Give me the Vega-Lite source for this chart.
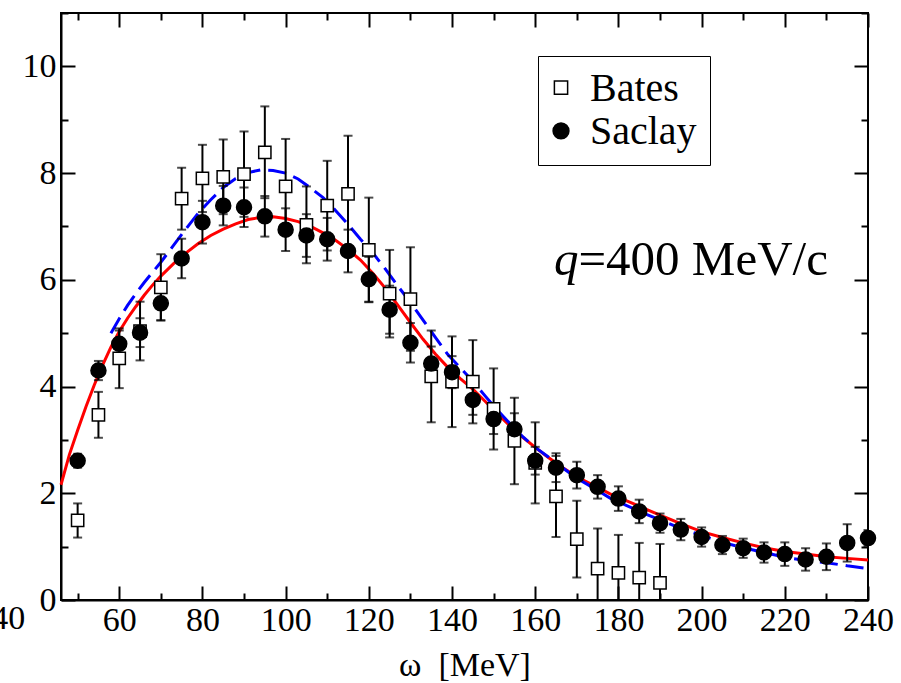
{
  "$schema": "https://vega.github.io/schema/vega-lite/v6.json",
  "width": 807,
  "height": 587,
  "autosize": {"type": "none"},
  "padding": {"left": 61, "top": 13, "right": 33, "bottom": 83},
  "background": "white",
  "config": {
    "font": "Liberation Serif",
    "view": {"stroke": "black", "strokeWidth": 2},
    "axis": {
      "grid": false,
      "domainColor": "black",
      "domainWidth": 2,
      "tickColor": "black",
      "tickWidth": 2,
      "labelColor": "black",
      "labelFont": "Liberation Serif",
      "labelFontSize": 34,
      "labelOverlap": false,
      "labelFlush": false,
      "titleFont": "Liberation Serif",
      "titleFontSize": 34,
      "titleFontWeight": "normal",
      "titleColor": "black"
    },
    "legend": {
      "orient": "none",
      "legendX": 477,
      "legendY": 43,
      "strokeColor": "black",
      "padding": 13,
      "labelFont": "Liberation Serif",
      "labelFontSize": 40,
      "labelColor": "black",
      "labelOffset": 9,
      "symbolOffset": -10,
      "symbolSize": 210,
      "symbolOpacity": 0,
      "rowPadding": 3
    }
  },
  "datasets": {
    "obs": [
      {"exp": "Bates", "w": 50, "v": 1.49, "err": 0.32},
      {"exp": "Bates", "w": 55, "v": 3.47, "err": 0.43},
      {"exp": "Bates", "w": 60, "v": 4.53, "err": 0.56},
      {"exp": "Bates", "w": 65, "v": 5.04, "err": 0.55},
      {"exp": "Bates", "w": 70, "v": 5.86, "err": 0.62},
      {"exp": "Bates", "w": 75, "v": 7.52, "err": 0.58},
      {"exp": "Bates", "w": 80, "v": 7.90, "err": 0.63},
      {"exp": "Bates", "w": 85, "v": 7.93, "err": 0.70},
      {"exp": "Bates", "w": 90, "v": 7.98, "err": 0.80},
      {"exp": "Bates", "w": 95, "v": 8.39, "err": 0.86},
      {"exp": "Bates", "w": 100, "v": 7.75, "err": 0.89},
      {"exp": "Bates", "w": 105, "v": 7.03, "err": 0.72},
      {"exp": "Bates", "w": 110, "v": 7.39, "err": 0.84},
      {"exp": "Bates", "w": 115, "v": 7.61, "err": 1.09},
      {"exp": "Bates", "w": 120, "v": 6.56, "err": 0.98},
      {"exp": "Bates", "w": 125, "v": 5.74, "err": 0.82},
      {"exp": "Bates", "w": 130, "v": 5.64, "err": 0.97},
      {"exp": "Bates", "w": 135, "v": 4.19, "err": 0.86},
      {"exp": "Bates", "w": 140, "v": 4.09, "err": 0.85},
      {"exp": "Bates", "w": 145, "v": 4.09, "err": 0.78},
      {"exp": "Bates", "w": 150, "v": 3.58, "err": 0.76},
      {"exp": "Bates", "w": 155, "v": 2.98, "err": 0.81},
      {"exp": "Bates", "w": 160, "v": 2.57, "err": 0.76},
      {"exp": "Bates", "w": 165, "v": 1.94, "err": 0.76},
      {"exp": "Bates", "w": 170, "v": 1.14, "err": 0.72},
      {"exp": "Bates", "w": 175, "v": 0.59, "err": 0.75},
      {"exp": "Bates", "w": 180, "v": 0.51, "err": 0.71},
      {"exp": "Bates", "w": 185, "v": 0.42, "err": 0.65},
      {"exp": "Bates", "w": 190, "v": 0.32, "err": 0.73},
      {"exp": "Saclay", "w": 50, "v": 2.61, "err": 0.13},
      {"exp": "Saclay", "w": 55, "v": 4.30, "err": 0.18},
      {"exp": "Saclay", "w": 60, "v": 4.80, "err": 0.25},
      {"exp": "Saclay", "w": 65, "v": 5.01, "err": 0.27},
      {"exp": "Saclay", "w": 70, "v": 5.56, "err": 0.32},
      {"exp": "Saclay", "w": 75, "v": 6.40, "err": 0.37},
      {"exp": "Saclay", "w": 80, "v": 7.08, "err": 0.40},
      {"exp": "Saclay", "w": 85, "v": 7.39, "err": 0.37},
      {"exp": "Saclay", "w": 90, "v": 7.36, "err": 0.37},
      {"exp": "Saclay", "w": 95, "v": 7.19, "err": 0.38},
      {"exp": "Saclay", "w": 100, "v": 6.94, "err": 0.40},
      {"exp": "Saclay", "w": 105, "v": 6.83, "err": 0.40},
      {"exp": "Saclay", "w": 110, "v": 6.76, "err": 0.40},
      {"exp": "Saclay", "w": 115, "v": 6.54, "err": 0.40},
      {"exp": "Saclay", "w": 120, "v": 6.01, "err": 0.42},
      {"exp": "Saclay", "w": 125, "v": 5.44, "err": 0.45},
      {"exp": "Saclay", "w": 130, "v": 4.82, "err": 0.37},
      {"exp": "Saclay", "w": 135, "v": 4.43, "err": 0.32},
      {"exp": "Saclay", "w": 140, "v": 4.27, "err": 0.30},
      {"exp": "Saclay", "w": 145, "v": 3.75, "err": 0.28},
      {"exp": "Saclay", "w": 150, "v": 3.39, "err": 0.28},
      {"exp": "Saclay", "w": 155, "v": 3.20, "err": 0.30},
      {"exp": "Saclay", "w": 160, "v": 2.61, "err": 0.26},
      {"exp": "Saclay", "w": 165, "v": 2.48, "err": 0.27},
      {"exp": "Saclay", "w": 170, "v": 2.34, "err": 0.25},
      {"exp": "Saclay", "w": 175, "v": 2.12, "err": 0.22},
      {"exp": "Saclay", "w": 180, "v": 1.90, "err": 0.23},
      {"exp": "Saclay", "w": 185, "v": 1.66, "err": 0.22},
      {"exp": "Saclay", "w": 190, "v": 1.44, "err": 0.18},
      {"exp": "Saclay", "w": 195, "v": 1.32, "err": 0.20},
      {"exp": "Saclay", "w": 200, "v": 1.18, "err": 0.18},
      {"exp": "Saclay", "w": 205, "v": 1.03, "err": 0.17},
      {"exp": "Saclay", "w": 210, "v": 0.97, "err": 0.18},
      {"exp": "Saclay", "w": 215, "v": 0.89, "err": 0.19},
      {"exp": "Saclay", "w": 220, "v": 0.86, "err": 0.22},
      {"exp": "Saclay", "w": 225, "v": 0.76, "err": 0.21},
      {"exp": "Saclay", "w": 230, "v": 0.81, "err": 0.25},
      {"exp": "Saclay", "w": 235, "v": 1.07, "err": 0.35},
      {"exp": "Saclay", "w": 240, "v": 1.16, "err": 0.15}
    ],
    "modelSolid": [
      {"w": 46, "v": 2.16}, {"w": 48, "v": 2.72}, {"w": 50, "v": 3.18}, {"w": 52, "v": 3.62},
      {"w": 54, "v": 4.03}, {"w": 56, "v": 4.40}, {"w": 58, "v": 4.74}, {"w": 60, "v": 5.03},
      {"w": 62, "v": 5.28}, {"w": 64, "v": 5.50}, {"w": 66, "v": 5.71}, {"w": 68, "v": 5.90},
      {"w": 70, "v": 6.07}, {"w": 73, "v": 6.30}, {"w": 76, "v": 6.50}, {"w": 79, "v": 6.68},
      {"w": 82, "v": 6.83}, {"w": 85, "v": 6.95}, {"w": 88, "v": 7.05}, {"w": 91, "v": 7.13},
      {"w": 94, "v": 7.17}, {"w": 97, "v": 7.18}, {"w": 100, "v": 7.15}, {"w": 103, "v": 7.09},
      {"w": 106, "v": 7.00}, {"w": 109, "v": 6.88}, {"w": 112, "v": 6.74}, {"w": 115, "v": 6.57},
      {"w": 118, "v": 6.37}, {"w": 121, "v": 6.12}, {"w": 124, "v": 5.84}, {"w": 127, "v": 5.52},
      {"w": 130, "v": 5.20}, {"w": 133, "v": 4.89}, {"w": 136, "v": 4.61}, {"w": 139, "v": 4.36},
      {"w": 142, "v": 4.15}, {"w": 145, "v": 3.95}, {"w": 148, "v": 3.72}, {"w": 151, "v": 3.48},
      {"w": 154, "v": 3.26}, {"w": 157, "v": 3.05}, {"w": 160, "v": 2.86}, {"w": 163, "v": 2.68},
      {"w": 166, "v": 2.51}, {"w": 169, "v": 2.36}, {"w": 172, "v": 2.23}, {"w": 175, "v": 2.11},
      {"w": 178, "v": 1.99}, {"w": 181, "v": 1.89}, {"w": 184, "v": 1.79}, {"w": 187, "v": 1.69},
      {"w": 190, "v": 1.59}, {"w": 195, "v": 1.43}, {"w": 200, "v": 1.28}, {"w": 205, "v": 1.17},
      {"w": 210, "v": 1.07}, {"w": 215, "v": 0.98}, {"w": 220, "v": 0.91}, {"w": 225, "v": 0.86},
      {"w": 230, "v": 0.81}, {"w": 235, "v": 0.78}, {"w": 240, "v": 0.75}
    ],
    "modelDashed": [
      {"w": 58, "v": 5.00}, {"w": 60, "v": 5.27}, {"w": 62, "v": 5.52}, {"w": 64, "v": 5.74},
      {"w": 66, "v": 5.95}, {"w": 68, "v": 6.14}, {"w": 70, "v": 6.33}, {"w": 73, "v": 6.64},
      {"w": 76, "v": 6.95}, {"w": 79, "v": 7.25}, {"w": 82, "v": 7.50}, {"w": 85, "v": 7.73},
      {"w": 88, "v": 7.90}, {"w": 91, "v": 8.01}, {"w": 94, "v": 8.06}, {"w": 97, "v": 8.05},
      {"w": 100, "v": 8.00}, {"w": 103, "v": 7.89}, {"w": 106, "v": 7.72}, {"w": 109, "v": 7.54},
      {"w": 112, "v": 7.30}, {"w": 115, "v": 7.04}, {"w": 118, "v": 6.76}, {"w": 121, "v": 6.50},
      {"w": 124, "v": 6.20}, {"w": 127, "v": 5.88}, {"w": 130, "v": 5.58}, {"w": 133, "v": 5.25},
      {"w": 136, "v": 4.92}, {"w": 139, "v": 4.60}, {"w": 142, "v": 4.35}, {"w": 145, "v": 4.10},
      {"w": 148, "v": 3.82}, {"w": 151, "v": 3.55}, {"w": 154, "v": 3.30}, {"w": 157, "v": 3.06},
      {"w": 160, "v": 2.86}, {"w": 163, "v": 2.69}, {"w": 166, "v": 2.51}, {"w": 170, "v": 2.28},
      {"w": 174, "v": 2.10}, {"w": 178, "v": 1.91}, {"w": 182, "v": 1.77}, {"w": 186, "v": 1.63},
      {"w": 190, "v": 1.50}, {"w": 195, "v": 1.34}, {"w": 200, "v": 1.21}, {"w": 205, "v": 1.08},
      {"w": 210, "v": 0.98}, {"w": 215, "v": 0.89}, {"w": 220, "v": 0.80}, {"w": 225, "v": 0.74},
      {"w": 230, "v": 0.70}, {"w": 235, "v": 0.64}, {"w": 240, "v": 0.59}
    ],
    "notes": [
      {"w": 170.4, "v": 6.09, "italicPart": "q", "plainPart": "=400 MeV/c"}
    ],
    "cutLabel": [
      {"w": 33.3, "v": -0.365, "txt": "40"}
    ]
  },
  "layer": [
    {
      "data": {"name": "modelSolid"},
      "mark": {"type": "line", "color": "#ff0000", "strokeWidth": 3},
      "encoding": {
        "x": {
          "field": "w", "type": "quantitative",
          "scale": {"domain": [46, 240], "nice": false, "zero": false},
          "axis": {
            "orient": "bottom",
            "values": [50, 60, 70, 80, 90, 100, 110, 120, 130, 140, 150, 160, 170, 180, 190, 200, 210, 220, 230, 240],
            "tickSize": {"condition": {"test": "datum.value % 20 === 0", "value": -14}, "value": -7},
            "labelPadding": 17,
            "labelExpr": "datum.value % 20 === 0 ? datum.label : ''",
            "title": "ω\u00a0\u00a0[MeV]",
            "titlePadding": 4
          }
        },
        "y": {
          "field": "v", "type": "quantitative",
          "scale": {"domain": [0, 11], "nice": false},
          "axis": {
            "orient": "left",
            "values": [0, 1, 2, 3, 4, 5, 6, 7, 8, 9, 10, 11],
            "tickSize": {"condition": {"test": "datum.value % 2 === 0", "value": -14}, "value": -7},
            "labelPadding": 19,
            "labelExpr": "datum.value % 2 === 0 ? datum.label : ''",
            "title": null
          }
        }
      }
    },
    {
      "data": {"name": "modelDashed"},
      "mark": {"type": "line", "color": "#0000ff", "strokeWidth": 3, "strokeDash": [18, 8]},
      "encoding": {
        "x": {
          "field": "w", "type": "quantitative",
          "scale": {"domain": [46, 240], "nice": false, "zero": false},
          "axis": {
            "orient": "top",
            "values": [50, 60, 70, 80, 90, 100, 110, 120, 130, 140, 150, 160, 170, 180, 190, 200, 210, 220, 230, 240],
            "tickSize": {"condition": {"test": "datum.value % 20 === 0", "value": -14}, "value": -7},
            "labels": false,
            "domain": false,
            "title": null
          }
        },
        "y": {
          "field": "v", "type": "quantitative",
          "scale": {"domain": [0, 11], "nice": false},
          "axis": {
            "orient": "right",
            "values": [0, 1, 2, 3, 4, 5, 6, 7, 8, 9, 10, 11],
            "tickSize": {"condition": {"test": "datum.value % 2 === 0", "value": -14}, "value": -7},
            "labels": false,
            "domain": false,
            "title": null
          }
        }
      }
    },
    {
      "data": {"name": "obs"},
      "mark": {"type": "errorbar", "ticks": true, "size": 9, "thickness": 2, "color": "black", "clip": true},
      "encoding": {
        "x": {"field": "w", "type": "quantitative", "scale": {"domain": [46, 240], "nice": false, "zero": false}, "axis": null},
        "y": {"field": "v", "type": "quantitative", "scale": {"domain": [0, 11], "nice": false}, "axis": null},
        "yError": {"field": "err"}
      }
    },
    {
      "data": {"name": "obs"},
      "transform": [{"filter": "datum.exp === 'Bates'"}],
      "mark": {"type": "point", "filled": true, "fill": "white", "opacity": 1, "stroke": "black", "strokeWidth": 1.5, "size": 150},
      "encoding": {
        "x": {"field": "w", "type": "quantitative", "scale": {"domain": [46, 240], "nice": false, "zero": false}, "axis": null},
        "y": {"field": "v", "type": "quantitative", "scale": {"domain": [0, 11], "nice": false}, "axis": null},
        "shape": {"field": "exp", "type": "nominal", "scale": {"domain": ["Bates", "Saclay"], "range": ["square", "circle"]}, "legend": {"title": null}}
      }
    },
    {
      "data": {"name": "obs"},
      "transform": [{"filter": "datum.exp === 'Saclay'"}],
      "mark": {"type": "point", "filled": true, "fill": "black", "opacity": 1, "stroke": "black", "strokeWidth": 1.5, "size": 225},
      "encoding": {
        "x": {"field": "w", "type": "quantitative", "scale": {"domain": [46, 240], "nice": false, "zero": false}, "axis": null},
        "y": {"field": "v", "type": "quantitative", "scale": {"domain": [0, 11], "nice": false}, "axis": null},
        "shape": {"field": "exp", "type": "nominal", "scale": {"domain": ["Bates", "Saclay"], "range": ["square", "circle"]}, "legend": {"title": null}}
      }
    },
    {
      "data": {"values": [{}]},
      "mark": {"type": "point", "shape": "square", "filled": true, "fill": "white", "stroke": "black", "strokeWidth": 1.5, "size": 175, "opacity": 1, "clip": false},
      "encoding": {
        "x": {"datum": 166.2, "type": "quantitative", "scale": {"domain": [46, 240], "nice": false, "zero": false}, "axis": null},
        "y": {"datum": 9.6, "type": "quantitative", "scale": {"domain": [0, 11], "nice": false}, "axis": null}
      }
    },
    {
      "data": {"values": [{}]},
      "mark": {"type": "point", "shape": "circle", "filled": true, "fill": "black", "stroke": "black", "strokeWidth": 1.5, "size": 250, "opacity": 1, "clip": false},
      "encoding": {
        "x": {"datum": 166.2, "type": "quantitative", "scale": {"domain": [46, 240], "nice": false, "zero": false}, "axis": null},
        "y": {"datum": 8.79, "type": "quantitative", "scale": {"domain": [0, 11], "nice": false}, "axis": null}
      }
    },
    {
      "data": {"name": "notes"},
      "mark": {"type": "text", "font": "Liberation Serif", "fontSize": 49, "fontStyle": "italic", "align": "right", "baseline": "alphabetic", "color": "black"},
      "encoding": {
        "x": {"field": "w", "type": "quantitative", "scale": {"domain": [46, 240], "nice": false, "zero": false}, "axis": null},
        "y": {"field": "v", "type": "quantitative", "scale": {"domain": [0, 11], "nice": false}, "axis": null},
        "text": {"field": "italicPart"}
      }
    },
    {
      "data": {"name": "notes"},
      "mark": {"type": "text", "font": "Liberation Serif", "fontSize": 49, "align": "left", "baseline": "alphabetic", "color": "black"},
      "encoding": {
        "x": {"field": "w", "type": "quantitative", "scale": {"domain": [46, 240], "nice": false, "zero": false}, "axis": null},
        "y": {"field": "v", "type": "quantitative", "scale": {"domain": [0, 11], "nice": false}, "axis": null},
        "text": {"field": "plainPart"}
      }
    },
    {
      "data": {"name": "cutLabel"},
      "mark": {"type": "text", "font": "Liberation Serif", "fontSize": 34, "align": "center", "baseline": "middle", "color": "black", "clip": false},
      "encoding": {
        "x": {"field": "w", "type": "quantitative", "scale": {"domain": [46, 240], "nice": false, "zero": false}, "axis": null},
        "y": {"field": "v", "type": "quantitative", "scale": {"domain": [0, 11], "nice": false}, "axis": null},
        "text": {"field": "txt"}
      }
    }
  ],
  "resolve": {"axis": {"x": "independent", "y": "independent"}}
}
